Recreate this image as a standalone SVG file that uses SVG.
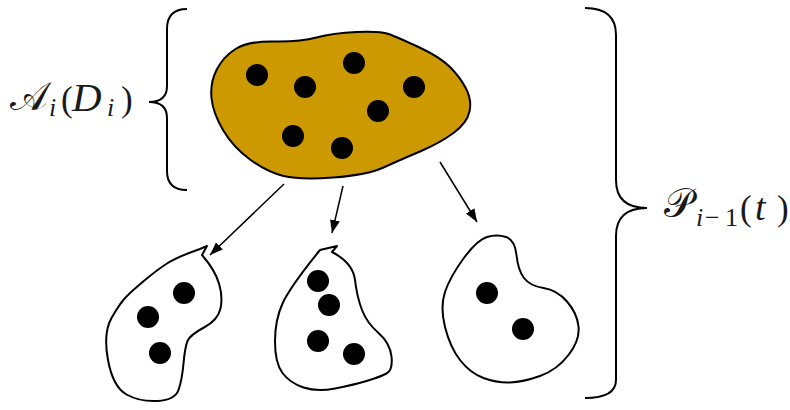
<svg xmlns="http://www.w3.org/2000/svg" width="790" height="410" viewBox="0 0 790 410">
<style>
.blob{stroke:#000;stroke-width:2;stroke-linejoin:round}
.dot{fill:#000}
.brace{fill:none;stroke:#000;stroke-width:2}
.conn{stroke:#000;stroke-width:1.5;fill:none}
.lbl{font-family:"Liberation Serif","DejaVu Serif",serif;fill:#1a1a1a}
.it{font-style:italic}
</style>
<defs>
<marker id="ah" markerUnits="userSpaceOnUse" markerWidth="14" markerHeight="11" refX="13" refY="5" orient="auto">
<path d="M0,0 L13,5 L0,10 Z" fill="#000"/>
</marker>
</defs>
<rect width="790" height="410" fill="#fff"/>
<g id="brace-left">
<path class="brace" d="M187,9 Q167,9 167,29 L167,86 Q167,102 149,102 Q167,102 167,118 L167,171 Q167,190 187,190"/>
<text class="lbl" y="110" font-size="35"><tspan x="10" font-size="40">𝒜</tspan><tspan class="it" x="49" y="116" font-size="26">i</tspan><tspan x="61" y="111">(</tspan><tspan class="it" x="72" font-size="41">D</tspan><tspan class="it" x="107" y="116" font-size="26">i</tspan><tspan x="121" y="111">)</tspan></text>
</g>
<g id="brace-right">
<path class="brace" d="M585,8 Q616,8 616,35 L616,180 Q616,208 647,208 Q616,208 616,236 L616,380 Q616,398 585,398"/>
<text class="lbl" y="217" font-size="35"><tspan x="664" font-size="40">𝒫</tspan><tspan class="it" x="696" y="226" font-size="26">i</tspan><tspan x="705" y="226" font-size="26">−</tspan><tspan x="725" y="226" font-size="26">1</tspan><tspan x="740" y="220">(</tspan><tspan class="it" x="755" font-size="38">t</tspan><tspan x="777">)</tspan></text>
</g>
<g id="node-main">
<path class="blob" fill="#cc9900" d="M274,41.5 Q300,42 316.5,37.5 Q333,33 356.5,32 Q380,31 388.5,34 Q397,37 418.5,47 Q440,57 450,67 Q460,77 466,88.5 Q472,100 469.5,111.5 Q467,123 453.5,133 Q440,143 420,151.5 Q400,160 383.5,167.5 Q367,175 333.5,177.5 Q300,180 283.5,176 Q267,172 250,159.5 Q233,147 223,130 Q213,113 211.5,98 Q210,83 216.5,70 Q223,57 235.5,49 Q248,41 274,41.5 Z"/>
<circle class="dot" cx="257" cy="75" r="11"/>
<circle class="dot" cx="305" cy="87" r="11"/>
<circle class="dot" cx="354" cy="63" r="11"/>
<circle class="dot" cx="414" cy="87" r="11"/>
<circle class="dot" cx="378" cy="111" r="11"/>
<circle class="dot" cx="293" cy="136" r="11"/>
<circle class="dot" cx="342" cy="148" r="11"/>
</g>
<g id="node-sub1">
<path class="blob" fill="#fff" d="M202,255 Q215,270 219,283.5 Q223,297 220.5,308.5 Q218,320 204,327.5 Q190,335 187.5,341 Q185,347 183.5,363.5 Q182,380 178.5,390 Q175,400 157.5,401 Q140,402 126.5,394.5 Q113,387 108,360 Q103,333 111.5,318 Q120,303 126.5,296.5 Q133,290 145,280 Q157,270 167,263.5 Q177,257 200,249 L207,246 Z"/>
<circle class="dot" cx="184" cy="293" r="11"/>
<circle class="dot" cx="148" cy="317" r="11"/>
<circle class="dot" cx="160" cy="353" r="11"/>
</g>
<g id="node-sub2">
<path class="blob" fill="#fff" d="M332,252 Q353,263 355,280 Q357,297 362,310 Q367,323 378.5,333 Q390,343 391.5,356.5 Q393,370 386.5,373.5 Q380,377 366.5,381 Q353,385 335,388.5 Q317,392 303.5,387.5 Q290,383 282.5,373 Q275,363 275,341.5 Q275,320 282.5,303.5 Q290,287 320,250 L337,246 Z"/>
<circle class="dot" cx="318" cy="281" r="11"/>
<circle class="dot" cx="329" cy="305" r="11"/>
<circle class="dot" cx="318" cy="341" r="11"/>
<circle class="dot" cx="354" cy="354" r="11"/>
</g>
<g id="node-sub3">
<path class="blob" fill="#fff" d="M487,237 Q497,234 506,237 Q515,240 516.5,255 Q518,270 524,278 Q530,286 543.5,288 Q557,290 567,301.5 Q577,313 578.5,326.5 Q580,340 568.5,355 Q557,370 540,376 Q523,382 510,382.5 Q497,383 483.5,378 Q470,373 460,360 Q450,347 445,327 Q440,307 445,292 Q450,277 463.5,258.5 Q477,240 487,237 Z"/>
<circle class="dot" cx="487" cy="293" r="11"/>
<circle class="dot" cx="523" cy="329" r="11"/>
</g>
<g id="connectors">
<line class="conn" x1="284" y1="184" x2="210" y2="255" marker-end="url(#ah)"/>
<line class="conn" x1="343" y1="186" x2="332" y2="233" marker-end="url(#ah)"/>
<line class="conn" x1="440" y1="162" x2="477" y2="222" marker-end="url(#ah)"/>
</g>
</svg>
